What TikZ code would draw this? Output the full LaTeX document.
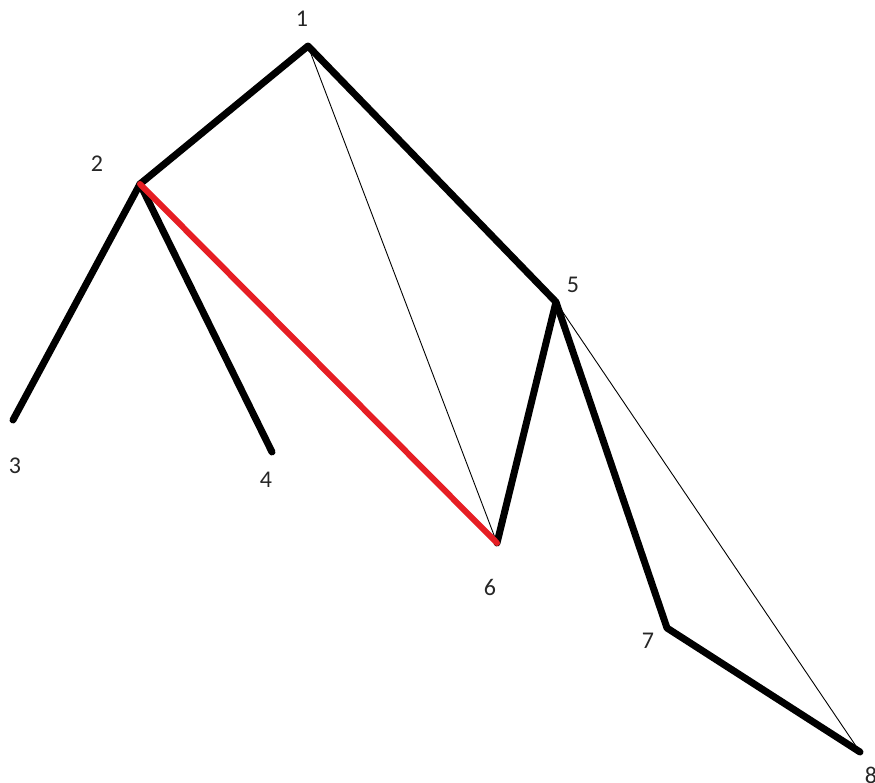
\documentclass[tikz,border=0pt]{standalone}
\usepackage{fontspec}
\setmainfont{Carlito}
\begin{document}
\begin{tikzpicture}[x=1pt,y=-1pt,
  thick line/.style={line width=7pt,line cap=round,line join=round,black},
  red line/.style={line width=6pt,line cap=round,color={rgb,255:red,230;green,30;blue,36}},
  thin line/.style={line width=0.9pt,black},
  lbl/.style={font=\fontsize{24}{28}\selectfont,text=black!85,inner sep=0pt}]
\useasboundingbox (0,0) rectangle (875,782);
\coordinate (p1) at (308,46);
\coordinate (p2) at (140,184);
\coordinate (p3) at (13,420);
\coordinate (p4) at (272,452);
\coordinate (p5) at (556,302);
\coordinate (p6) at (497,543);
\coordinate (p7) at (667,628);
\coordinate (p8) at (860,752);
\draw[thin line] (p1) -- (p6);
\draw[thin line] (p5) -- (p8);
\draw[thick line] (p3) -- (p2) -- (p1) -- (p5) -- (p6);
\draw[thick line] (p2) -- (p4);
\draw[thick line] (p5) -- (p7) -- (p8);
\draw[red line] (p2) -- (p6);
\node[lbl] (l1) at (302,19) {1};
\node[lbl] (l2) at (97,164) {2};
\node[lbl] (l3) at (15,466) {3};
\node[lbl] (l4) at (266,480) {4};
\node[lbl] (l5) at (573,285) {5};
\node[lbl] (l6) at (490,587) {6};
\node[lbl] (l7) at (648,641) {7};
\node[lbl] (l8) at (871,775) {8};
\end{tikzpicture}
\end{document}
